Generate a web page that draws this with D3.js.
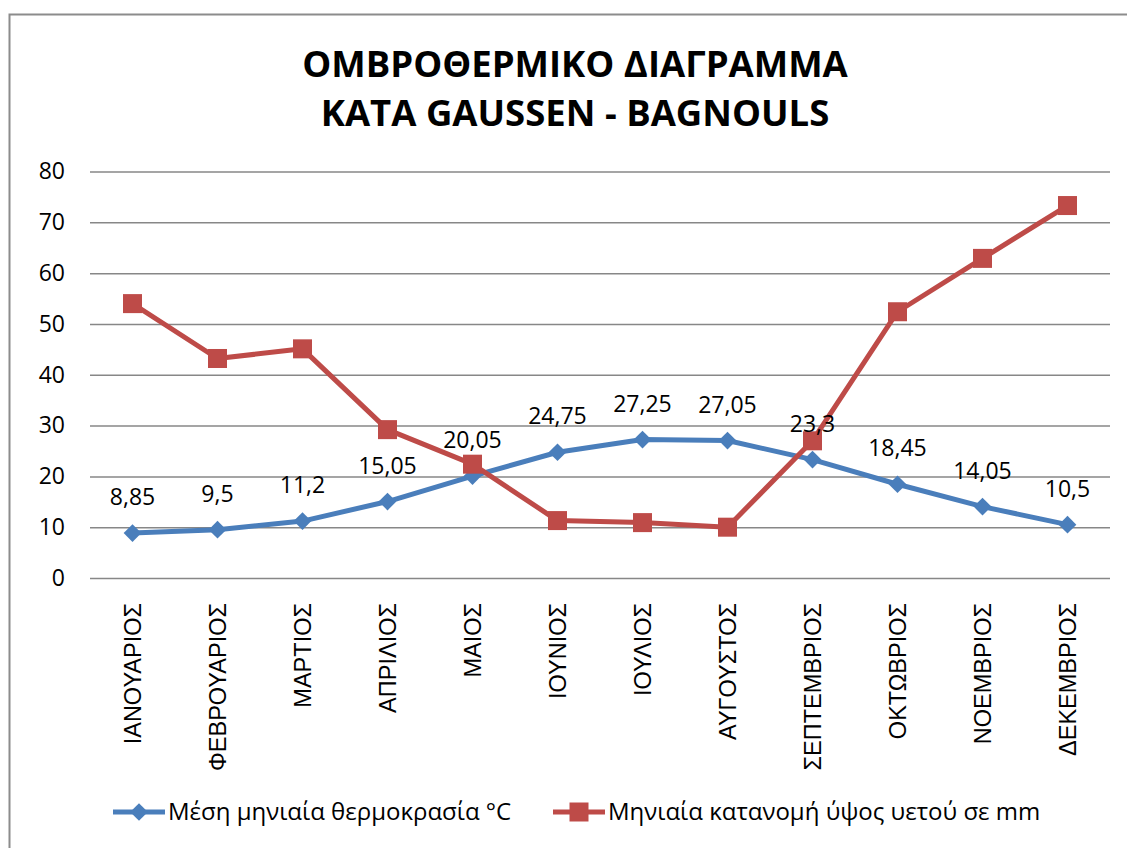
<!DOCTYPE html>
<html>
<head>
<meta charset="utf-8">
<script src="https://cdn.jsdelivr.net/npm/d3@7/dist/d3.min.js"></script>
<style>
  body { margin: 0; background: #fff; }
  svg { display: block; }
  .calib { font-family: "Open Sans", "Noto Sans", sans-serif; }
</style>
</head>
<body>
<svg id="chart" width="1127" height="848"></svg>
<script>
var months = ['ΙΑΝΟΥΑΡΙΟΣ', 'ΦΕΒΡΟΥΑΡΙΟΣ', 'ΜΑΡΤΙΟΣ', 'ΑΠΡΙΛΙΟΣ', 'ΜΑΙΟΣ', 'ΙΟΥΝΙΟΣ',
  'ΙΟΥΛΙΟΣ', 'ΑΥΓΟΥΣΤΟΣ', 'ΣΕΠΤΕΜΒΡΙΟΣ', 'ΟΚΤΩΒΡΙΟΣ', 'ΝΟΕΜΒΡΙΟΣ', 'ΔΕΚΕΜΒΡΙΟΣ'];
var temperature = [8.85, 9.5, 11.2, 15.05, 20.05, 24.75, 27.25, 27.05, 23.3, 18.45, 14.05, 10.5];
var rainfall = [54, 43.2, 45.1, 29.2, 22.4, 11.3, 10.9, 10, 27, 52.4, 62.9, 73.3];
var yTicks = [0, 10, 20, 30, 40, 50, 60, 70, 80];
var titleLines = ['ΟΜΒΡΟΘΕΡΜΙΚΟ ΔΙΑΓΡΑΜΜΑ', 'KATA GAUSSEN - BAGNOULS'];
var seriesNames = ['Μέση μηνιαία θερμοκρασία °C', 'Μηνιαία κατανομή ύψος υετού σε mm'];

var svg = d3.select('#chart');
var blue = '#4a7ebb', red = '#be4b48';

// outer chart border (only top and left fall inside the picture)
svg.append('rect')
  .attr('x', 9.5).attr('y', 14.5)
  .attr('width', 1200).attr('height', 900)
  .attr('fill', 'none').attr('stroke', '#8c8c8c').attr('stroke-width', 2);

// title
svg.append('text')
  .attr('class', 'calib')
  .attr('text-anchor', 'middle')
  .attr('font-weight', 'bold')
  .attr('font-size', 36.5)
  .selectAll('tspan')
  .data(titleLines)
  .enter()
  .append('tspan')
  .attr('x', 575)
  .attr('y', function(d, i) { return 77 + i * 49; })
  .text(function(d) { return d; });

var x = d3.scaleBand().domain(months).range([90, 1110]),
  y = d3.scaleLinear().domain([0, 80]).range([578, 171.5]);
var cx = function(i) { return x(months[i]) + x.bandwidth() / 2; };

// gridlines + y labels
var yAxis = svg.append('g')
  .attr('transform', 'translate(90,0)')
  .call(d3.axisLeft(y).tickValues(yTicks).tickSize(-1020).tickPadding(25));
yAxis.select('.domain').remove();
yAxis.selectAll('line').attr('stroke', '#878787').attr('stroke-width', 1.5);
yAxis.selectAll('text')
  .attr('class', 'calib')
  .attr('font-size', 23)
  .attr('fill', '#000');

// month labels
var xAxis = svg.append('g')
  .attr('transform', 'translate(0,578)')
  .call(d3.axisBottom(x).tickSize(0).tickPadding(0));
xAxis.select('.domain').remove();
xAxis.selectAll('text')
  .attr('font-family', '"Liberation Sans", Arial, sans-serif')
  .attr('font-size', 23.5)
  .attr('fill', '#000')
  .attr('text-anchor', 'end')
  .attr('dy', null)
  .attr('transform', 'translate(8,25) rotate(-90)')
  .attr('x', 0).attr('y', 0);

var line = d3.line()
  .x(function(d, i) { return cx(i); })
  .y(function(d) { return y(d); });

// temperature series
svg.append('path')
  .datum(temperature)
  .attr('d', line)
  .attr('fill', 'none')
  .attr('stroke', blue)
  .attr('stroke-width', 5)
  .attr('stroke-linejoin', 'round');

var diamond = d3.symbol().type(d3.symbolDiamond2).size(200);
svg.selectAll('.tmark')
  .data(temperature)
  .enter()
  .append('path')
  .attr('class', 'tmark')
  .attr('d', diamond)
  .attr('transform', function(d, i) { return 'translate(' + cx(i) + ',' + y(d) + ')'; })
  .attr('fill', blue);

// rainfall series
svg.append('path')
  .datum(rainfall)
  .attr('d', line)
  .attr('fill', 'none')
  .attr('stroke', red)
  .attr('stroke-width', 5)
  .attr('stroke-linejoin', 'round');

svg.selectAll('.rmark')
  .data(rainfall)
  .enter()
  .append('rect')
  .attr('class', 'rmark')
  .attr('x', function(d, i) { return cx(i) - 9.5; })
  .attr('y', function(d) { return y(d) - 9.5; })
  .attr('width', 19).attr('height', 19)
  .attr('fill', red);

// temperature data labels
svg.selectAll('.tlabel')
  .data(temperature)
  .enter()
  .append('text')
  .attr('class', 'calib')
  .attr('text-anchor', 'middle')
  .attr('font-size', 23)
  .attr('x', function(d, i) { return cx(i); })
  .attr('y', function(d) { return y(d) - 28; })
  .text(function(d) { return String(d).replace('.', ','); });

// legend
var legend = svg.selectAll('.legend')
  .data(seriesNames)
  .enter()
  .append('g')
  .attr('transform', function(d, i) { return 'translate(' + (113 + i * 440) + ',812)'; });

legend.append('line')
  .attr('x1', 0).attr('x2', 52)
  .attr('stroke', function(d, i) { return i ? red : blue; })
  .attr('stroke-width', 5);
legend.append('path')
  .attr('d', function(d, i) {
    return i ? d3.symbol().type(d3.symbolSquare).size(361)() : diamond();
  })
  .attr('transform', 'translate(26,0)')
  .attr('fill', function(d, i) { return i ? red : blue; });
legend.append('text')
  .attr('class', 'calib')
  .attr('x', 55)
  .attr('dy', '0.35em')
  .attr('font-size', 24)
  .text(function(d) { return d; });
</script>
</body>
</html>
